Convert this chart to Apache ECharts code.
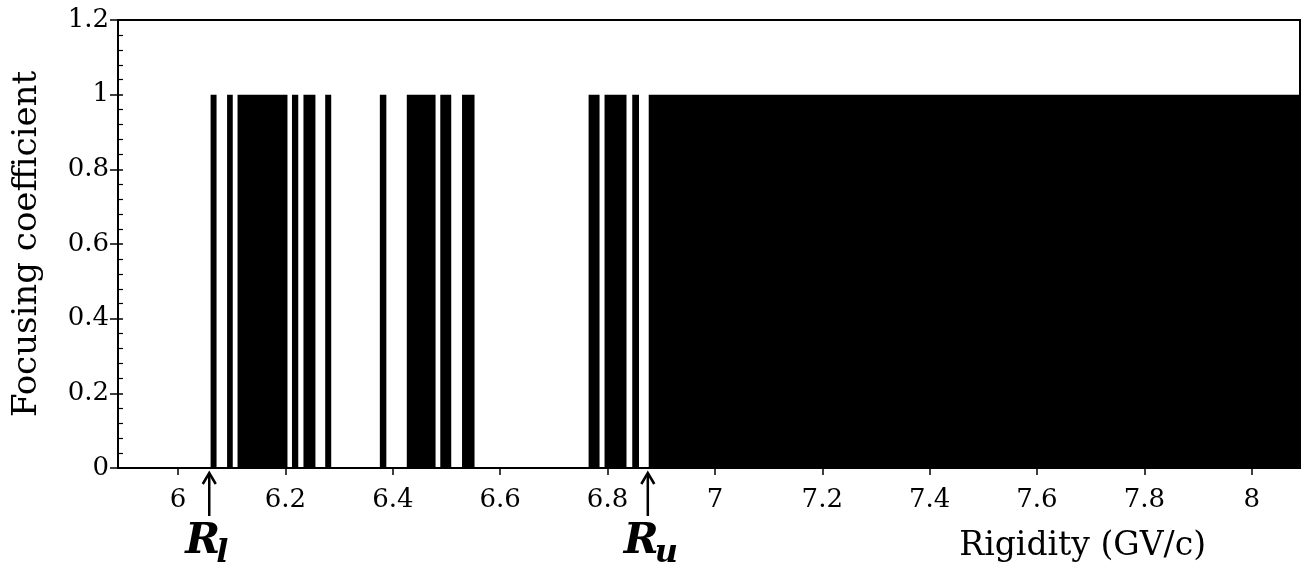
<!DOCTYPE html>
<html><head><meta charset="utf-8">
<script src="https://cdn.jsdelivr.net/npm/echarts@6/dist/echarts.min.js"></script>
<style>html,body{margin:0;padding:0;background:#fff}#c{width:1302px;height:570px}</style>
</head><body><div id="c"></div><script>
// Intervals (in GV/c) where the focusing coefficient equals the value below
const barStart = [6.0605, 6.0912, 6.1107, 6.2121, 6.2335, 6.2740, 6.3758, 6.4260, 6.4884, 6.5289, 6.7647, 6.7944, 6.8460, 6.8767];
const barEnd   = [6.0716, 6.1018, 6.2037, 6.2238, 6.2558, 6.2852, 6.3879, 6.4796, 6.5088, 6.5522, 6.7851, 6.8353, 6.8586, 8.09];
const barValue = [1, 1, 1, 1, 1, 1, 1, 1, 1, 1, 1, 1, 1, 1];
const xTickValues = [6, 6.2, 6.4, 6.6, 6.8, 7, 7.2, 7.4, 7.6, 7.8, 8];
const xRange = [5.888, 8.09];
const yRange = [0, 1.2];
const xName = 'Rigidity (GV/c)';
const yName = 'Focusing coefficient';
const markerNames = ['R', 'R'];
const markerSubs = ['l', 'u'];
const markerValues = [6.058, 6.875];

const FONT = 'DejaVu Serif';
const chart = echarts.init(document.getElementById('c'), null, {renderer: 'canvas'});
const data = barStart.map((s, i) => [s, barEnd[i], barValue[i]]);

chart.setOption({
  animation: false,
  backgroundColor: '#fff',
  grid: {left: 118, right: 2, top: 20, bottom: 102, show: true, borderColor: '#000', borderWidth: 2, backgroundColor: 'transparent'},
  xAxis: {
    type: 'value', min: xRange[0], max: xRange[1],
    name: xName, nameLocation: 'end', nameGap: -94,
    nameTextStyle: {fontFamily: FONT, fontSize: 33, color: '#000', align: 'right', verticalAlign: 'top', padding: [62, 0, 0, 0]},
    axisLine: {show: true, lineStyle: {color: '#000', width: 2}},
    axisTick: {show: true, inside: false, length: 7, lineStyle: {color: '#000', width: 1.5}, customValues: xTickValues},
    axisLabel: {fontFamily: FONT, fontSize: 26, color: '#000', margin: 19, customValues: xTickValues,
      formatter: v => String(Math.round(v * 10) / 10)},
    splitLine: {show: false}
  },
  yAxis: [{
    type: 'value', min: yRange[0], max: yRange[1], interval: 0.2,
    name: yName, nameLocation: 'middle', nameGap: 74,
    nameTextStyle: {fontFamily: FONT, fontSize: 34, color: '#000'},
    axisLine: {show: true, lineStyle: {color: '#000', width: 2}},
    axisTick: {show: true, inside: false, length: 8, lineStyle: {color: '#000', width: 1.5}},
    axisLabel: {fontFamily: FONT, fontSize: 26, color: '#000', margin: 9},
    splitLine: {show: false}
  }, {
    type: 'value', min: yRange[0], max: yRange[1], interval: 0.2, position: 'left', offset: 0,
    axisLine: {show: false},
    axisTick: {show: true, inside: true, length: 5, lineStyle: {color: '#000', width: 1.5}},
    minorTick: {show: true, splitNumber: 5, length: 5, lineStyle: {color: '#000', width: 1.2}},
    axisLabel: {show: false},
    splitLine: {show: false}
  }],
  series: [{
    type: 'custom',
    clip: true,
    encode: {x: [0, 1], y: 2},
    data: data,
    renderItem: function (params, api) {
      const a = api.coord([api.value(0), api.value(2)]);
      const b = api.coord([api.value(1), 0]);
      return {type: 'rect', shape: {x: a[0], y: a[1], width: b[0] - a[0], height: b[1] - a[1]}, style: {fill: '#000'}};
    }
  }]
});

const graphics = [];
markerValues.forEach((v, i) => {
  const px = chart.convertToPixel({xAxisIndex: 0}, v);
  graphics.push({type: 'polyline', shape: {points: [[px, 474], [px, 516]]}, style: {stroke: '#000', lineWidth: 2.5, fill: null}});
  graphics.push({type: 'polyline', shape: {points: [[px - 6.5, 484], [px, 473], [px + 6.5, 484]]}, style: {stroke: '#000', lineWidth: 2.5, fill: null}});
  graphics.push({type: 'text', x: px - 24, y: 542, style: {text: markerNames[i], font: 'italic bold 42px "DejaVu Serif"', fill: '#000', verticalAlign: 'middle', align: 'left'}});
  graphics.push({type: 'text', x: px + 7, y: 554, style: {text: markerSubs[i], font: 'italic bold 32px "DejaVu Serif"', fill: '#000', verticalAlign: 'middle', align: 'left'}});
});
chart.setOption({graphic: graphics});
</script></body></html>
